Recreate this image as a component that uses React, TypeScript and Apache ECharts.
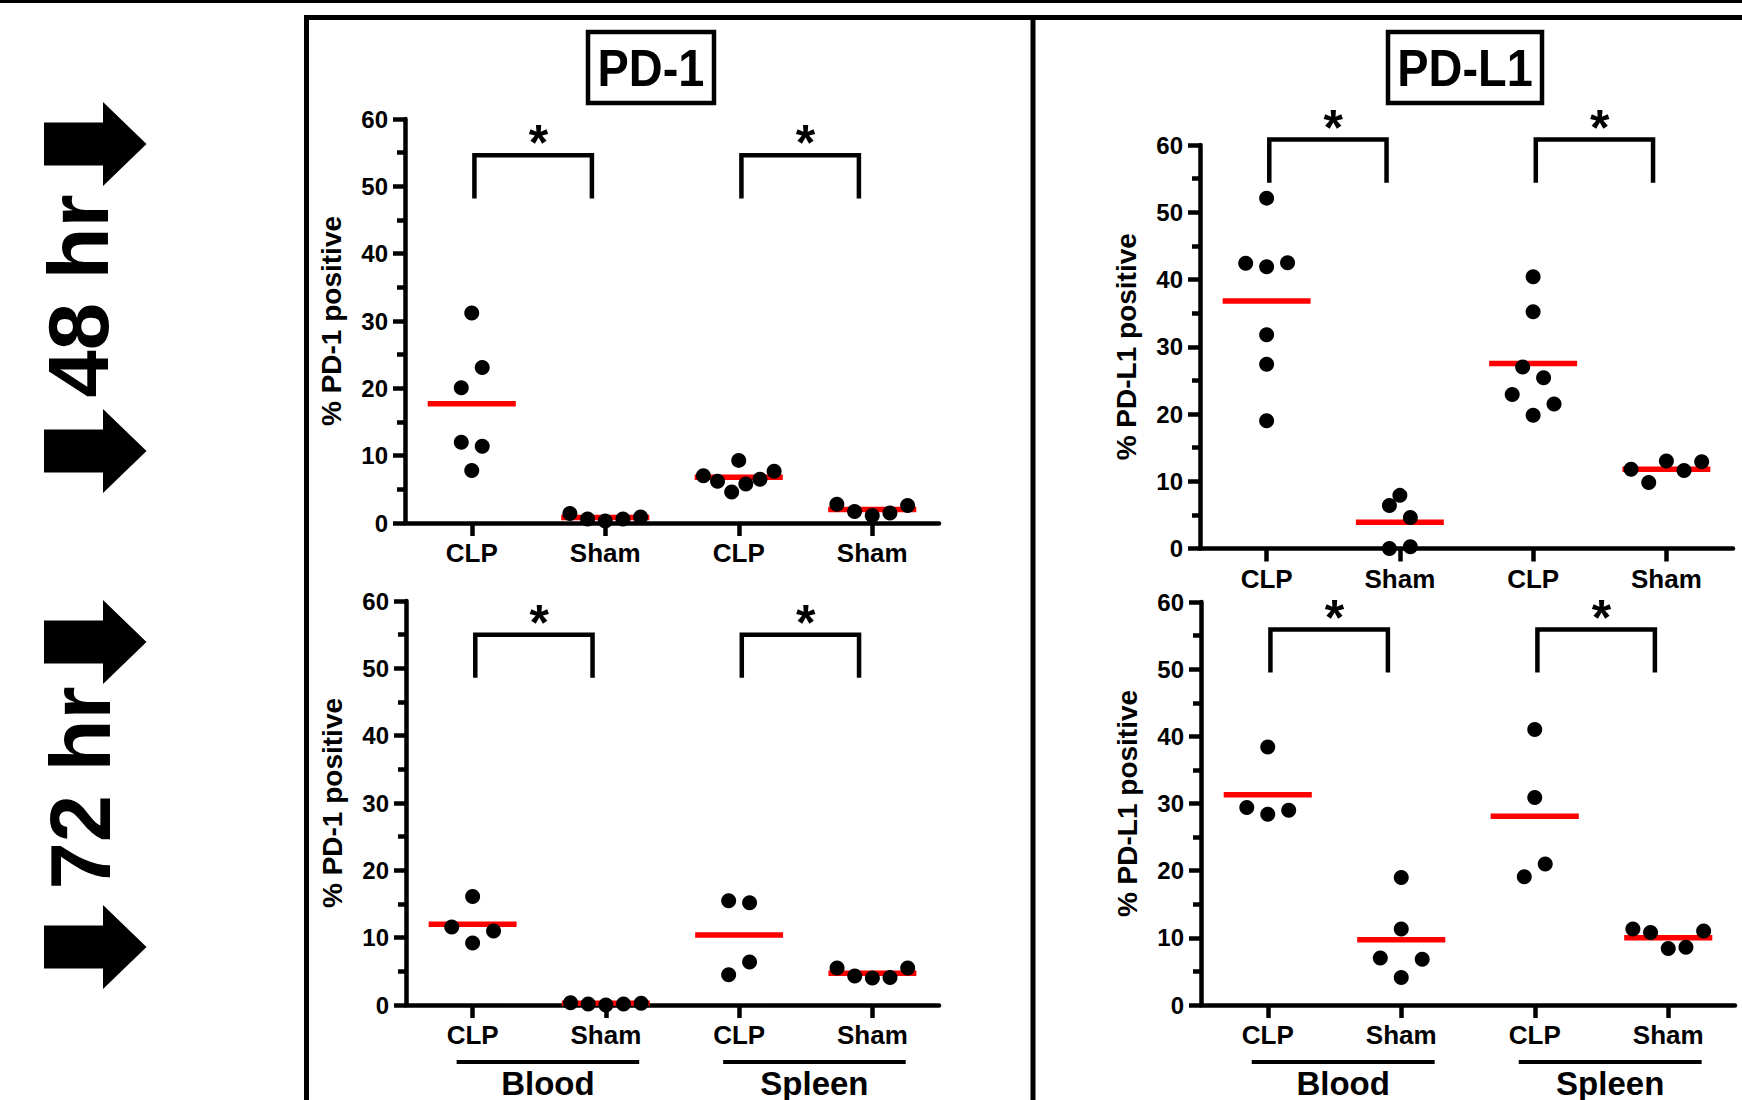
import React, { useEffect, useRef } from "react";
import * as echarts from "echarts";

const FONT = "'Liberation Sans', Arial, Helvetica, sans-serif";

// ---------- texts ----------
const categories = ["CLP", "Sham", "CLP", "Sham"];
const tissues = ["Blood", "Spleen"];
const yTicks = [0, 10, 20, 30, 40, 50, 60];
const markerTitles = ["PD-1", "PD-L1"];
const timeLabels = ["48 hr", "72 hr"];
const yAxisNames = ["% PD-1 positive", "% PD-L1 positive"];
const significance = ["*", "*"];

// ---------- data: each group lists its dots row by row (as binned in the plot), left to right ----------
// PD-1, 48 hr
const pd1_48_bloodClp = [[31.2], [20.1, 23.1], [12.0, 11.4], [7.8]];
const pd1_48_bloodSham = [[1.4, 0.6, 0.3, 0.6, 0.9]];
const pd1_48_spleenClp = [[9.3], [7.0, 6.2, 4.6, 5.8, 6.5, 7.7]];
const pd1_48_spleenSham = [[2.8, 1.7, 1.1, 1.5, 2.6]];
const pd1_48_means = [17.7, 0.8, 6.8, 2.0];

// PD-1, 72 hr
const pd1_72_bloodClp = [[16.1], [11.6, 9.2, 11.0]];
const pd1_72_bloodSham = [[0.35, 0.15, 0.0, 0.15, 0.25]];
const pd1_72_spleenClp = [[15.5, 15.2], [4.5, 6.4]];
const pd1_72_spleenSham = [[5.5, 4.3, 4.0, 4.1, 5.5]];
const pd1_72_means = [12.0, 0.25, 10.4, 4.7];

// PD-L1, 48 hr
const pdl1_48_bloodClp = [[52.1], [42.4, 41.9, 42.5], [31.8], [27.4], [19.0]];
const pdl1_48_bloodSham = [[7.9], [6.4, 4.6], [0.0, 0.25]];
const pdl1_48_spleenClp = [[40.4], [35.2], [27.0, 25.4], [22.9, 19.8, 21.5]];
const pdl1_48_spleenSham = [[11.8, 9.8, 13.0, 11.6, 12.9]];
const pdl1_48_means = [36.8, 3.9, 27.5, 11.8];

// PD-L1, 72 hr
const pdl1_72_bloodClp = [[38.4], [29.4, 28.4, 29.0]];
const pdl1_72_bloodSham = [[19.0], [11.3], [7.0, 4.1, 6.8]];
const pdl1_72_spleenClp = [[41.0], [30.9], [19.1, 21.0]];
const pdl1_72_spleenSham = [[11.3, 10.8, 8.4, 8.6, 11.0]];
const pdl1_72_means = [31.3, 9.7, 28.1, 10.0];

// significance bracket level per panel (PD-1 48, PD-1 72, PD-L1 48, PD-L1 72)
const bracketLevels = [54.6, 55.0, 60.8, 55.9];
const bracketPairs = [[1, 2], [3, 4]];

// ---------- layout / style ----------
const W = 1742;
const H = 1100;
const gridRects = [
  { left: 405, top: 119, width: 534, height: 404 },
  { left: 406, top: 601, width: 533, height: 404 },
  { left: 1200, top: 145, width: 533, height: 403.5 },
  { left: 1201, top: 602, width: 534, height: 403 },
];
const DOT_GAP = 0.157;
const MAX_SPAN = 0.53;
const MEAN_HALF = 0.33;
const BRACKET_DROP = 6.4;
const AXIS_W = 4.5;

function swarm(rows: number[][], center: number): number[][] {
  const pts: number[][] = [];
  rows.forEach((row) => {
    const n = row.length;
    const step = n > 1 ? Math.min(DOT_GAP, MAX_SPAN / (n - 1)) : 0;
    row.forEach((v, i) => pts.push([center + (i - (n - 1) / 2) * step, v]));
  });
  return pts;
}

const panels = [
  { yName: yAxisNames[0], groups: [pd1_48_bloodClp, pd1_48_bloodSham, pd1_48_spleenClp, pd1_48_spleenSham], means: pd1_48_means, level: bracketLevels[0], tissue: false },
  { yName: yAxisNames[0], groups: [pd1_72_bloodClp, pd1_72_bloodSham, pd1_72_spleenClp, pd1_72_spleenSham], means: pd1_72_means, level: bracketLevels[1], tissue: true },
  { yName: yAxisNames[1], groups: [pdl1_48_bloodClp, pdl1_48_bloodSham, pdl1_48_spleenClp, pdl1_48_spleenSham], means: pdl1_48_means, level: bracketLevels[2], tissue: false },
  { yName: yAxisNames[1], groups: [pdl1_72_bloodClp, pdl1_72_bloodSham, pdl1_72_spleenClp, pdl1_72_spleenSham], means: pdl1_72_means, level: bracketLevels[3], tissue: true },
];

function buildOption() {
  const tickPositions = categories.map((_, i) => i + 1);
  const grid = gridRects.map((g) => ({ ...g, containLabel: false }));
  const xAxis = panels.map((_, i) => ({
    type: "value",
    gridIndex: i,
    min: 0.5,
    max: categories.length + 0.5,
    axisLine: { show: true, onZero: false, lineStyle: { color: "#000", width: AXIS_W } },
    axisTick: { show: true, customValues: tickPositions, length: 13, lineStyle: { color: "#000", width: AXIS_W } },
    axisLabel: {
      customValues: tickPositions,
      formatter: (v: number) => categories[Math.round(v) - 1] ?? "",
      color: "#000",
      fontSize: 26,
      fontWeight: "bold",
      fontFamily: FONT,
      margin: 17,
    },
    splitLine: { show: false },
  }));
  const yAxis = panels.map((p, i) => ({
    type: "value",
    gridIndex: i,
    min: yTicks[0],
    max: yTicks[yTicks.length - 1],
    interval: yTicks[1] - yTicks[0],
    name: p.yName,
    nameLocation: "middle",
    nameGap: 60,
    nameRotate: 90,
    nameTextStyle: { color: "#000", fontSize: 28, fontWeight: "bold", fontFamily: FONT },
    axisLine: { show: true, lineStyle: { color: "#000", width: AXIS_W } },
    axisTick: { show: true, length: 12, lineStyle: { color: "#000", width: AXIS_W } },
    minorTick: { show: true, splitNumber: 2, length: 8, lineStyle: { color: "#000", width: AXIS_W } },
    axisLabel: { color: "#000", fontSize: 24, fontWeight: "bold", fontFamily: FONT, margin: 17 },
    splitLine: { show: false },
    minorSplitLine: { show: false },
  }));

  const series: any[] = [];
  panels.forEach((p, i) => {
    series.push({
      type: "custom",
      xAxisIndex: i,
      yAxisIndex: i,
      z: 2,
      silent: true,
      encode: { x: 0, y: 1 },
      data: p.means.map((m, gi) => [gi + 1, m]),
      renderItem: (_params: any, api: any) => {
        const x = api.value(0);
        const y = api.value(1);
        const a = api.coord([x - MEAN_HALF, y]);
        const b = api.coord([x + MEAN_HALF, y]);
        return {
          type: "line",
          shape: { x1: a[0], y1: a[1], x2: b[0], y2: b[1] },
          style: { stroke: "#ff0000", lineWidth: 5.5 },
        };
      },
    });
    series.push({
      type: "scatter",
      xAxisIndex: i,
      yAxisIndex: i,
      z: 3,
      clip: false,
      symbol: "circle",
      symbolSize: 15,
      itemStyle: { color: "#000", opacity: 1 },
      silent: true,
      data: p.groups.flatMap((rows, gi) => swarm(rows, gi + 1)),
    });
    series.push({
      type: "custom",
      xAxisIndex: i,
      yAxisIndex: i,
      z: 2,
      silent: true,
      encode: { x: [0, 1], y: 2 },
      data: bracketPairs.map((pr) => [pr[0], pr[1], p.level]),
      renderItem: (params: any, api: any) => {
        const i1 = api.value(0);
        const i2 = api.value(1);
        const L = api.value(2);
        const lt = api.coord([i1 + 0.02, L]);
        const lb = api.coord([i1 + 0.02, L - BRACKET_DROP]);
        const rt = api.coord([i2 - 0.1, L]);
        const rb = api.coord([i2 - 0.1, L - BRACKET_DROP]);
        const mid = api.coord([(i1 + i2) / 2, L]);
        return {
          type: "group",
          children: [
            {
              type: "polyline",
              shape: { points: [lb, lt, rt, rb] },
              style: { stroke: "#000", lineWidth: 4.5, fill: null },
            },
            {
              type: "text",
              x: mid[0],
              y: mid[1] - 12,
              style: {
                text: significance[params.dataIndex],
                fill: "#000",
                fontSize: 50,
                fontWeight: "bold",
                fontFamily: FONT,
                align: "center",
                verticalAlign: "middle",
              },
            },
          ],
        };
      },
    });
    if (p.tissue) {
      series.push({
        type: "custom",
        xAxisIndex: i,
        yAxisIndex: i,
        z: 2,
        silent: true,
        encode: { x: [0, 1], y: 2 },
        data: bracketPairs.map((pr) => [pr[0], pr[1], 0]),
        renderItem: (params: any, api: any) => {
          const i1 = api.value(0);
          const i2 = api.value(1);
          const a = api.coord([i1 - 0.12, 0]);
          const b = api.coord([i2 + 0.25, 0]);
          const yLine = a[1] + 57;
          return {
            type: "group",
            children: [
              {
                type: "line",
                shape: { x1: a[0], y1: yLine, x2: b[0], y2: yLine },
                style: { stroke: "#000", lineWidth: 4 },
              },
              {
                type: "text",
                x: (a[0] + b[0]) / 2,
                y: a[1] + 78,
                style: {
                  text: tissues[params.dataIndex],
                  fill: "#000",
                  fontSize: 33,
                  fontWeight: "bold",
                  fontFamily: FONT,
                  align: "center",
                  verticalAlign: "middle",
                },
              },
            ],
          };
        },
      });
    }
  });

  const arrow = (c: number) => ({
    type: "polygon",
    shape: {
      points: [
        [44, c - 21.5],
        [103, c - 21.5],
        [103, c - 42],
        [146.5, c],
        [103, c + 42],
        [103, c + 21.5],
        [44, c + 21.5],
      ],
    },
    style: { fill: "#000" },
  });

  const bigText = (text: string, x: number, y: number, size: number, extra: any = {}) => ({
    type: "text",
    x,
    y,
    ...extra,
    style: {
      text,
      fill: "#000",
      fontSize: size,
      fontWeight: "bold",
      fontFamily: FONT,
      align: "center",
      verticalAlign: "middle",
    },
  });

  const graphic: any[] = [
    { type: "rect", shape: { x: 0, y: 0, width: W, height: 3 }, style: { fill: "#000" } },
    { type: "rect", shape: { x: 304, y: 15, width: W - 304, height: 5 }, style: { fill: "#000" } },
    { type: "rect", shape: { x: 304, y: 15, width: 5, height: H - 15 }, style: { fill: "#000" } },
    { type: "rect", shape: { x: 1030.5, y: 15, width: 5, height: H - 15 }, style: { fill: "#000" } },
    { type: "rect", shape: { x: 588, y: 32, width: 126, height: 71 }, style: { fill: "none", stroke: "#000", lineWidth: 4.5 } },
    { type: "rect", shape: { x: 1388, y: 32, width: 154, height: 71 }, style: { fill: "none", stroke: "#000", lineWidth: 4.5 } },
    bigText(markerTitles[0], 651, 68, 51, { scaleX: 0.92 }),
    bigText(markerTitles[1], 1465, 68, 51, { scaleX: 0.92 }),
    bigText(timeLabels[0], 78.5, 296, 85, { rotation: Math.PI / 2 }),
    bigText(timeLabels[1], 80, 788, 85, { rotation: Math.PI / 2 }),
    arrow(144),
    arrow(451),
    arrow(642),
    arrow(947),
  ];

  return {
    animation: false,
    backgroundColor: "#fff",
    grid,
    xAxis,
    yAxis,
    series,
    graphic,
  };
}

export default function App() {
  const ref = useRef<HTMLDivElement>(null);
  useEffect(() => {
    if (!ref.current) return;
    const chart = echarts.init(ref.current, undefined, { renderer: "svg" });
    chart.setOption(buildOption() as any);
    return () => chart.dispose();
  }, []);
  return (
    <div
      ref={ref}
      style={{ position: "absolute", left: 0, top: 0, width: W, height: H, background: "#fff" }}
    />
  );
}
